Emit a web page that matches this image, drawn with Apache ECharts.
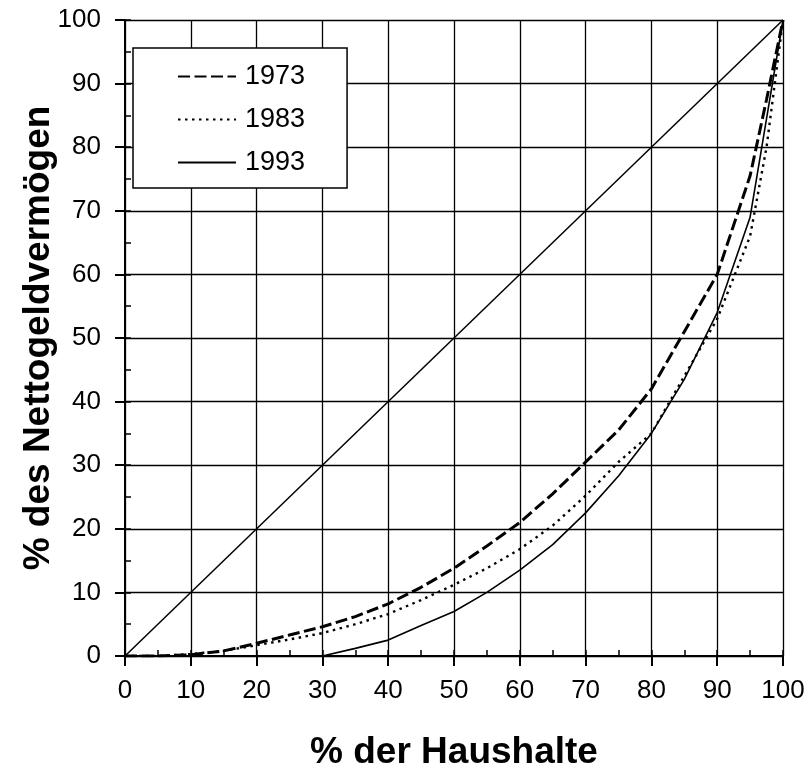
<!DOCTYPE html>
<html>
<head>
<meta charset="utf-8">
<script src="https://cdn.jsdelivr.net/npm/echarts@6/dist/echarts.min.js"></script>
<style>
html,body{margin:0;padding:0;background:#fff;}
#chart{width:808px;height:769px;}
</style>
</head>
<body>
<div id="chart"></div>
<script>
// % der Haushalte (cumulative share of households)
const pctHouseholds = [0,5,10,15,20,25,30,35,40,45,50,55,60,65,70,75,80,85,90,95,97.5,100];
// % des Nettogeldvermögens (cumulative share of net financial wealth)
const wealth1973 = [0,0,0.2,0.8,2.0,3.3,4.6,6.2,8.2,10.8,13.8,17.3,21.0,25.5,30.5,35.5,42.0,51.0,60.0,75.5,87.5,100];
const wealth1983 = [0,0,0.3,0.8,1.7,2.6,3.6,5.0,6.6,8.8,11.2,13.8,16.8,20.5,25.2,30.5,35.0,44.0,53.0,66.0,80.0,100];
const wealth1993 = [0,0,0,0,0,0,0,1.2,2.5,4.8,7.0,10.0,13.5,17.5,22.5,28.3,35.0,43.5,54.0,69.0,84.5,100];
const equalityLine = [[0,0],[100,100]];
const seriesNames = ['1973','1983','1993'];
const xTitle = '% der Haushalte';
const yTitle = '% des Nettogeldvermögen';

const pairs = ys => pctHouseholds.map((x,i) => [x, ys[i]]);
const FONT = 'Liberation Sans, Arial, sans-serif';

const chart = echarts.init(document.getElementById('chart'), null, {renderer:'canvas'});
chart.setOption({
  backgroundColor:'#fff',
  animation:false,
  grid:{left:125, right:25, top:20, bottom:113, containLabel:false, outerBoundsMode:'none'},
  legend:{
    data:seriesNames,
    orient:'vertical',
    left:133, top:48,
    padding:[15,42,12,44],
    itemWidth:58, itemHeight:14, itemGap:16,
    itemStyle:{opacity:0},
    backgroundColor:'#fff',
    borderColor:'#000', borderWidth:1.5, borderRadius:0,
    textStyle:{fontFamily:FONT, fontSize:27, color:'#000', lineHeight:27, padding:[0,0,0,4]},
    selectedMode:false
  },
  xAxis:[{
    type:'value', min:0, max:100, interval:10,
    axisLine:{lineStyle:{color:'#000', width:2}},
    axisTick:{show:true, inside:false, length:10, lineStyle:{color:'#000', width:2}},
    axisLabel:{fontFamily:FONT, fontSize:26, color:'#000', margin:22},
    splitLine:{show:true, lineStyle:{color:'#000', width:1.3}},
    name:xTitle, nameLocation:'middle', nameGap:78,
    nameTextStyle:{fontFamily:FONT, fontSize:37, fontWeight:'bold', color:'#000'}
  },{
    type:'value', min:0, max:100, interval:5, position:'bottom',
    axisLine:{show:false},
    axisTick:{show:true, inside:true, length:6, lineStyle:{color:'#000', width:1.5}},
    axisLabel:{show:false}, splitLine:{show:false}
  }],
  yAxis:[{
    type:'value', min:0, max:100, interval:10,
    axisLine:{show:true, lineStyle:{color:'#000', width:2}},
    axisTick:{show:true, inside:false, length:10, lineStyle:{color:'#000', width:2}},
    axisLabel:{fontFamily:FONT, fontSize:26, color:'#000', margin:24},
    splitLine:{show:true, lineStyle:{color:'#000', width:1.3}},
    name:yTitle, nameLocation:'middle', nameGap:68, nameRotate:90, nameMoveOverlap:false,
    nameTextStyle:{fontFamily:FONT, fontSize:37, fontWeight:'bold', color:'#000'}
  },{
    type:'value', min:0, max:100, interval:5, position:'left', offset:0,
    axisLine:{show:false},
    axisTick:{show:true, inside:true, length:6, lineStyle:{color:'#000', width:1.5}},
    axisLabel:{show:false}, splitLine:{show:false}
  }],
  series:[
    {name:'equality', type:'line', data:equalityLine, symbol:'none', silent:true,
     lineStyle:{color:'#000', width:1.5}, z:2},
    {name:'1973', type:'line', data:pairs(wealth1973), symbol:'none',
     lineStyle:{color:'#000', width:3, type:[12,4.5]}, itemStyle:{color:'#000'}, z:3},
    {name:'1983', type:'line', data:pairs(wealth1983), symbol:'none',
     lineStyle:{color:'#000', width:2.4, type:[2.5,4.5]}, itemStyle:{color:'#000'}, z:3},
    {name:'1993', type:'line', data:pairs(wealth1993), symbol:'none',
     lineStyle:{color:'#000', width:1.6, type:'solid'}, itemStyle:{color:'#000'}, z:3}
  ]
});
</script>
</body>
</html>
